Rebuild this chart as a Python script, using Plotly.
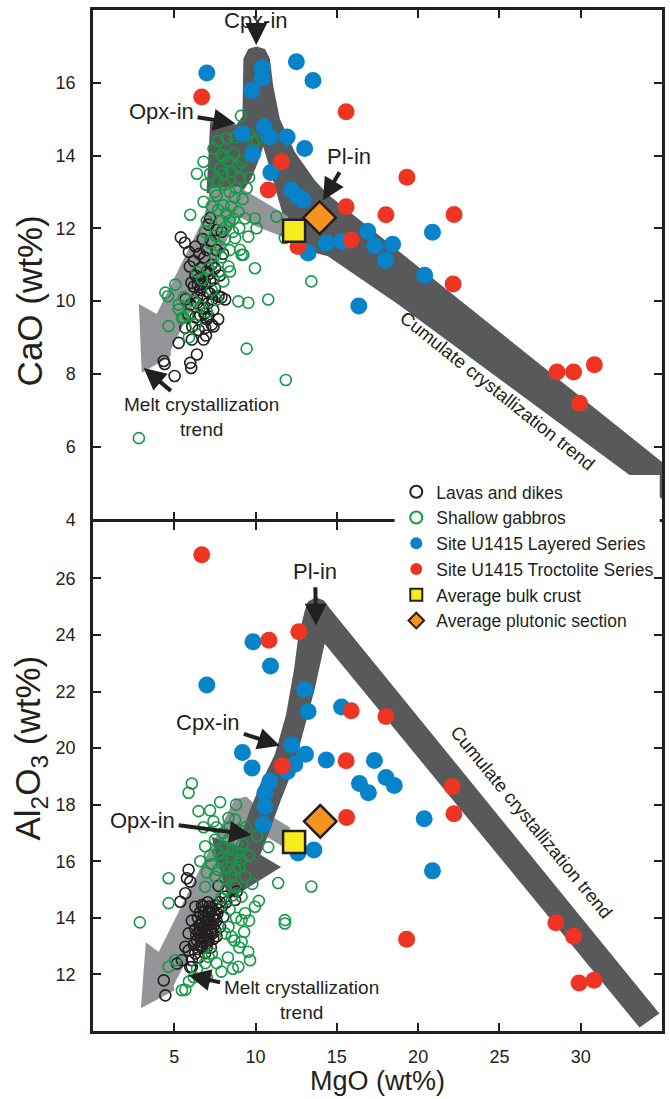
import plotly.graph_objects as go
from plotly.subplots import make_subplots

# ---------------- DATA (MgO wt%, oxide wt%) ----------------
# Upper panel: CaO vs MgO
cao_lavas = [(5.40, 11.75), (5.65, 11.60), (5.90, 11.35), (6.30, 11.50), (6.75, 11.70), (7.10, 12.10),
             (7.20, 12.28), (7.60, 11.95), (7.92, 11.90), (6.85, 11.20), (7.30, 11.00), (7.60, 11.40),
             (8.00, 11.30), (5.95, 10.95), (6.30, 10.70), (6.60, 10.90), (7.00, 10.80), (7.40, 10.60),
             (7.80, 10.70), (6.20, 10.40), (6.60, 10.30), (6.90, 10.50), (7.20, 10.20), (7.50, 10.35),
             (7.90, 10.10), (8.13, 10.04), (5.70, 10.05), (6.00, 9.90), (6.40, 9.95), (6.80, 9.80),
             (7.10, 9.95), (7.40, 9.76), (7.72, 10.13), (5.88, 9.63), (6.30, 9.55), (6.60, 9.60),
             (7.00, 9.50), (7.30, 9.35), (7.70, 9.50), (7.10, 9.58), (5.68, 9.26), (6.10, 9.30),
             (6.50, 9.20), (6.90, 9.26), (7.41, 9.30), (5.27, 8.85), (6.08, 8.94), (6.80, 8.94),
             (4.35, 8.35), (4.41, 8.27), (5.02, 7.94), (5.98, 8.30), (6.04, 8.16), (6.39, 8.53),
             (6.50, 10.60), (6.80, 10.10), (7.20, 10.55), (6.40, 10.10), (6.05, 10.50), (7.50, 10.90),
             (6.20, 11.10), (7.00, 11.40), (6.95, 9.05), (7.25, 11.65), (6.55, 11.30), (6.70, 10.45),
             (7.05, 10.25), (7.35, 10.05), (6.85, 9.65), (7.15, 10.75), (6.45, 10.45)]
cao_gabbros = [(9.10, 15.09), (8.22, 14.47), (7.41, 14.19), (6.80, 13.83), (6.39, 13.50), (7.92, 14.01),
               (8.64, 14.05), (9.55, 14.60), (9.86, 14.37), (10.06, 14.42), (9.14, 13.83), (7.82, 13.65),
               (8.53, 13.56), (9.04, 13.37), (9.45, 13.10), (6.80, 12.73), (5.98, 12.37), (7.61, 12.90),
               (8.02, 12.63), (8.64, 12.27), (8.94, 12.45), (9.35, 12.27), (9.96, 12.27), (10.06, 12.00),
               (9.55, 11.77), (8.74, 11.73), (9.04, 11.41), (9.25, 11.27), (7.82, 11.50), (8.33, 10.95),
               (7.72, 10.81), (8.02, 10.54), (9.96, 10.90), (10.78, 10.04), (8.94, 9.99), (9.55, 9.95),
               (5.06, 10.45), (4.45, 10.23), (4.65, 9.31), (5.27, 9.77), (5.57, 9.55), (11.28, 12.32),
               (13.43, 10.54), (2.82, 6.23), (11.86, 7.83), (9.45, 8.69), (4.61, 10.13), (5.27, 9.90),
               (5.47, 9.53), (7.61, 10.04), (8.43, 10.81), (9.14, 11.27), (8.10, 13.20), (8.40, 13.00),
               (8.70, 12.85), (8.20, 12.40), (7.90, 12.20), (8.50, 12.60), (8.80, 13.10), (7.70, 13.30),
               (8.30, 13.85), (8.90, 13.70), (7.50, 13.00), (8.00, 13.50), (8.60, 11.90), (8.10, 11.70),
               (7.50, 11.80), (7.90, 11.20), (8.40, 11.40), (8.20, 12.05), (7.30, 12.60), (7.00, 12.20),
               (7.20, 11.60), (7.50, 11.25), (6.90, 11.90), (7.70, 12.50), (9.20, 12.80), (9.60, 13.40),
               (8.75, 14.50), (7.70, 14.40), (7.20, 13.50), (6.95, 13.20), (8.00, 13.95), (9.00, 12.00),
               (8.40, 12.20), (7.10, 10.90), (6.70, 10.60), (6.40, 10.80), (6.20, 10.00), (6.60, 9.85),
               (7.30, 10.30), (7.00, 9.70), (6.30, 9.35), (5.90, 9.00), (5.80, 9.60), (5.60, 10.10),
               (11.80, 11.73)]
cao_layered = [(7.00, 16.27), (12.51, 16.58), (13.53, 16.06), (10.41, 16.40), (10.41, 16.13), (9.76, 15.79),
               (9.19, 14.60), (10.53, 14.79), (10.88, 14.51), (11.94, 14.51), (13.02, 14.19), (9.82, 14.05),
               (10.94, 13.53), (12.20, 13.05), (12.61, 12.87), (12.92, 12.78), (14.35, 11.59), (15.30, 11.64),
               (13.23, 11.32), (16.35, 9.86), (16.90, 11.92), (17.33, 11.51), (18.43, 11.56), (18.00, 11.12),
               (20.88, 11.89), (20.40, 10.71)]
cao_troctolite = [(6.69, 15.61), (15.57, 15.20), (11.59, 13.83), (10.78, 13.05), (15.57, 12.59), (12.61, 11.50),
                  (15.88, 11.68), (19.31, 13.40), (18.02, 12.37), (22.21, 12.38), (22.15, 10.47), (28.54, 8.05),
                  (29.56, 8.05), (30.84, 8.25), (29.93, 7.19)]
cao_bulk_crust = [(12.37, 11.93)]
cao_plutonic = [(13.94, 12.29)]

# Lower panel: Al2O3 vs MgO
al_lavas = [(5.88, 15.70), (5.78, 15.40), (5.98, 15.28), (5.68, 14.87), (5.37, 14.57), (7.72, 15.13),
            (8.84, 14.93), (8.74, 14.63), (4.35, 11.79), (4.45, 11.26), (5.16, 12.38), (5.47, 12.50),
            (5.98, 12.26), (5.88, 12.85), (5.68, 12.98), (5.88, 13.45), (6.08, 13.90), (6.29, 14.39),
            (8.13, 14.75), (7.92, 14.39), (8.02, 14.04), (7.82, 13.68), (7.51, 13.55), (7.10, 13.20),
            (6.70, 12.97), (6.29, 12.74), (6.08, 12.50), (6.08, 12.26), (6.50, 13.50), (6.70, 13.80),
            (6.90, 14.00), (7.10, 14.20), (7.30, 14.35), (7.50, 14.10), (7.70, 14.30), (6.60, 14.20),
            (6.80, 14.40), (7.00, 13.60), (7.20, 13.80), (7.40, 13.70), (7.60, 13.90), (6.40, 13.20),
            (6.60, 13.00), (6.80, 13.30), (7.00, 13.10), (7.20, 13.45), (7.40, 13.25), (6.90, 12.75),
            (6.50, 12.60), (6.30, 13.60), (6.45, 14.00), (7.80, 14.55), (7.05, 14.55), (6.75, 13.65),
            (7.15, 13.95), (6.95, 13.40), (7.35, 14.05), (6.60, 13.35), (6.20, 13.05), (7.60, 13.35),
            (8.20, 14.55), (6.90, 14.25), (7.25, 12.95), (6.55, 13.75), (6.85, 13.55), (7.10, 13.75),
            (7.30, 13.55), (6.65, 13.15), (7.05, 13.35), (7.45, 13.95), (6.80, 14.05), (7.15, 14.40),
            (6.35, 13.40), (7.55, 14.45), (6.95, 13.85), (7.25, 14.20), (6.70, 14.45), (7.00, 12.95),
            (6.45, 12.90), (7.65, 14.15), (6.60, 13.60), (7.35, 13.45), (6.90, 13.20)]
al_gabbros = [(6.08, 18.75), (7.82, 18.09), (6.49, 17.77), (5.88, 18.42), (4.65, 15.40), (4.65, 14.52),
              (2.88, 13.84), (11.39, 15.23), (13.43, 15.11), (11.80, 13.92), (11.80, 13.80), (9.14, 13.15),
              (9.55, 12.80), (9.66, 12.50), (8.94, 12.27), (10.78, 16.50), (5.47, 11.44), (5.68, 11.46),
              (7.41, 17.41), (8.33, 17.53), (8.74, 17.47), (6.90, 16.53), (7.51, 16.76), (8.33, 16.76),
              (8.84, 16.64), (7.72, 16.29), (8.53, 16.17), (9.14, 16.05), (7.92, 15.92), (8.74, 15.70),
              (9.35, 15.46), (7.51, 15.46), (6.90, 15.10), (8.74, 15.10), (9.14, 14.75), (9.96, 14.39),
              (9.35, 14.16), (9.14, 13.92), (8.33, 13.68), (8.53, 13.33), (7.31, 12.74), (7.10, 12.62),
              (8.13, 13.45), (4.65, 12.27), (5.06, 12.50), (8.00, 17.00), (8.40, 17.20), (9.00, 17.10),
              (7.60, 17.20), (8.10, 16.50), (8.60, 16.40), (9.20, 16.60), (7.90, 16.10), (8.30, 15.80),
              (8.90, 16.30), (7.70, 15.70), (8.10, 15.40), (8.50, 15.50), (9.00, 15.80), (7.30, 15.90),
              (8.20, 15.00), (8.60, 14.80), (7.90, 14.70), (7.20, 16.20), (9.40, 17.20), (8.80, 18.00),
              (6.60, 16.00), (7.00, 15.60), (8.40, 14.30), (8.80, 14.00), (9.60, 13.90), (8.70, 13.20),
              (9.00, 12.95), (7.60, 12.40), (8.30, 12.60), (7.90, 12.10), (6.90, 12.40), (6.40, 12.20),
              (5.90, 11.75), (6.20, 11.90), (7.00, 11.90), (8.60, 12.20), (9.30, 13.50), (10.20, 14.60),
              (10.10, 16.90), (9.80, 15.20), (6.80, 17.20), (7.20, 17.80), (9.60, 16.20)]
al_layered = [(9.84, 23.76), (10.92, 22.90), (7.00, 22.23), (13.02, 22.07), (13.23, 21.29), (15.29, 21.45),
              (12.22, 20.12), (13.07, 19.78), (9.19, 19.84), (9.78, 19.30), (14.35, 19.58), (12.41, 19.43),
              (11.95, 19.17), (17.31, 19.56), (16.39, 18.75), (16.94, 18.42), (18.02, 18.96), (18.53, 18.68),
              (20.37, 17.50), (20.88, 15.66), (10.88, 18.83), (10.57, 18.42), (10.57, 17.93), (10.47, 17.30),
              (13.59, 16.40), (12.61, 16.29)]
al_troctolite = [(6.69, 26.83), (12.66, 24.11), (10.82, 23.81), (15.88, 21.32), (18.02, 21.12), (15.57, 19.55),
                 (11.65, 19.37), (22.10, 18.64), (22.20, 17.68), (15.60, 17.55), (19.29, 13.24), (28.47, 13.83),
                 (29.56, 13.35), (29.90, 11.70), (30.82, 11.79)]
al_bulk_crust = [(12.37, 16.68)]
al_plutonic = [(13.98, 17.41)]

series_names = ["Lavas and dikes", "Shallow gabbros", "Site U1415 Layered Series",
                "Site U1415 Troctolite Series", "Average bulk crust", "Average plutonic section"]
x_ticks = [5, 10, 15, 20, 25, 30]
cao_ticks = [4, 6, 8, 10, 12, 14, 16]
al_ticks = [12, 14, 16, 18, 20, 22, 24, 26]

# ---------------- Trend band outlines (illustrative shapes, MgO / oxide) ----------------
cao_cumulate_band = [(7.21, 14.92), (8.82, 14.85), (9.19, 15.07), (9.25, 16.66), (9.55, 16.93), (10.06, 17.0),
                     (10.58, 16.93), (10.88, 16.66), (11.08, 15.93), (11.49, 15.01), (12.41, 14.1), (13.64, 13.32),
                     (14.45, 12.93), (35.88, 5.26), (35.88, 4.27), (18.74, 9.92), (14.45, 11.23), (12.61, 11.45),
                     (12.0, 11.86), (11.39, 12.82), (10.78, 13.78), (10.47, 14.25), (10.17, 13.84), (9.74, 13.37),
                     (9.25, 13.04), (6.98, 12.96)]
cao_melt_band = [(12.0, 12.33), (11.88, 11.73), (10.04, 12.05), (8.94, 12.33), (7.84, 11.32), (4.78, 8.66),
                 (4.78, 8.49), (3.0, 8.03), (2.82, 9.92), (3.92, 9.64), (6.8, 12.27), (7.23, 13.1), (8.94, 13.15)]
al_melt_band = [(12.12, 17.19), (12.0, 16.41), (10.47, 16.94), (9.55, 16.76), (4.96, 11.61), (5.02, 11.44),
                (2.94, 10.8), (3.25, 13.14), (4.04, 12.79), (8.33, 17.76), (8.7, 18.18), (9.43, 18.29),
                (10.29, 17.83)]
al_cumulate_band = [(13.03, 24.86), (13.23, 25.18), (13.72, 25.33), (14.21, 25.22), (14.57, 24.93),
                    (34.84, 10.62), (33.62, 10.12), (14.25, 23.69), (13.64, 22.09), (12.98, 20.67),
                    (12.31, 19.25), (11.57, 18.18), (10.66, 16.76), (10.29, 16.23), (11.57, 15.8),
                    (8.33, 14.63), (7.29, 16.87), (8.94, 16.55), (9.55, 17.65), (10.29, 18.72),
                    (11.19, 19.78), (11.88, 21.2), (12.37, 22.8), (12.61, 23.87)]

# ---------------- STYLE ----------------
FONT = "Liberation Sans, Arial, sans-serif"
INK = "#231f20"
DARK = "#58595b"
LIGHT = "#939598"
LINE_W = 2.5
styles = [
    dict(symbol="circle-open", size=11, color=INK, line=dict(width=1.6, color=INK)),
    dict(symbol="circle-open", size=11, color="#159947", line=dict(width=1.6, color="#159947")),
    dict(symbol="circle", size=17, color="#0783c9", line=dict(width=0)),
    dict(symbol="circle", size=17, color="#ee3524", line=dict(width=0)),
    dict(symbol="square", size=22, color="#f7ec1e", line=dict(width=2.5, color=INK)),
    dict(symbol="diamond", size=25, color="#f7941d", line=dict(width=2.5, color=INK)),
]

# a gap of one axis-line width lets the two panels share a single divider line
fig = make_subplots(rows=2, cols=1, shared_xaxes=True, vertical_spacing=LINE_W / 1021)

panels = [
    (1, [cao_lavas, cao_gabbros, cao_layered, cao_troctolite, cao_bulk_crust, cao_plutonic]),
    (2, [al_lavas, al_gabbros, al_layered, al_troctolite, al_bulk_crust, al_plutonic]),
]
for row, sets in panels:
    for i, pts in enumerate(sets):
        fig.add_trace(go.Scatter(
            x=[p[0] for p in pts], y=[p[1] for p in pts], mode="markers",
            name=series_names[i], legendgroup=series_names[i], showlegend=(row == 1),
            marker=styles[i], hoverinfo="x+y+name"), row=row, col=1)


def outline(pts):
    return "M " + " L ".join(f"{x},{y}" for x, y in pts) + " Z"


shapes = [
    dict(type="path", path=outline(cao_cumulate_band), xref="x", yref="y", fillcolor=DARK,
         line=dict(width=0), layer="below"),
    dict(type="path", path=outline(cao_melt_band), xref="x", yref="y", fillcolor=LIGHT,
         line=dict(width=0), layer="below"),
    dict(type="path", path=outline(al_melt_band), xref="x2", yref="y2", fillcolor=LIGHT,
         line=dict(width=0), layer="below"),
    dict(type="path", path=outline(al_cumulate_band), xref="x2", yref="y2", fillcolor=DARK,
         line=dict(width=0), layer="below"),
    # white box behind the legend (hides the band end and the panel divider there)
    dict(type="rect", xref="paper", yref="paper", x0=0.530, x1=0.996, y0=0.490, y1=0.5446,
         fillcolor="white", line=dict(width=0), layer="above"),
]

ann = []


def arrow(text, tip, tail, axis, size=22):
    xr, yr = ("x", "y") if axis == 1 else ("x2", "y2")
    ann.append(dict(text=text, x=tip[0], y=tip[1], ax=tail[0], ay=tail[1], xref=xr, yref=yr,
                    axref=xr, ayref=yr, showarrow=True, arrowhead=2, arrowsize=1.1, arrowwidth=4,
                    arrowcolor=INK, standoff=0, startstandoff=2,
                    font=dict(family=FONT, size=size, color=INK)))


arrow("Cpx-in", (10.04, 17.04), (10.04, 17.72), 1)
arrow("Opx-in", (8.76, 14.88), (4.22, 15.21), 1)
arrow("Pl-in", (14.15, 12.77), (15.74, 13.97), 1)
arrow("Melt crystallization<br>trend", (3.12, 8.16), (6.67, 6.82), 1, size=19)
arrow("Pl-in", (13.72, 24.33), (13.66, 26.25), 2)
arrow("Cpx-in", (11.49, 20.08), (7.10, 20.92), 2)
arrow("Opx-in", (9.74, 16.94), (3.06, 17.44), 2)
arrow("Melt crystallization<br>trend", (5.88, 11.97), (12.8, 11.08), 2, size=19)

ann.append(dict(text="Cumulate crystallization trend", x=24.86, y=7.53, xref="x", yref="y",
                showarrow=False, textangle=38.5, font=dict(family=FONT, size=18.5, color=INK)))
ann.append(dict(text="Cumulate crystallization trend", x=27.0, y=17.37, xref="x2", yref="y2",
                showarrow=False, textangle=50.6, font=dict(family=FONT, size=18.5, color=INK)))

# axis titles
ann.append(dict(text="CaO (wt%)", x=-0.110, y=0.715, xref="paper", yref="paper", showarrow=False,
                textangle=-90, xanchor="center", yanchor="middle",
                font=dict(family=FONT, size=35, color=INK)))
ann.append(dict(text="Al<sub>2</sub>O<sub>3</sub> (wt%)", x=-0.110, y=0.277, xref="paper", yref="paper",
                showarrow=False, textangle=-90, xanchor="center", yanchor="middle",
                font=dict(family=FONT, size=35, color=INK)))
ann.append(dict(text="MgO (wt%)", x=0.5, y=-0.049, xref="paper", yref="paper", showarrow=False,
                xanchor="center", yanchor="middle", font=dict(family=FONT, size=27, color=INK)))

axis_common = dict(showline=True, linecolor=INK, linewidth=LINE_W, mirror="ticks", ticks="inside",
                   ticklen=8, tickwidth=2, tickcolor=INK, showgrid=False, zeroline=False,
                   tickfont=dict(family=FONT, size=18, color=INK), ticklabelstandoff=11)

fig.update_xaxes(range=[0, 35], tickvals=x_ticks, **axis_common)
fig.update_xaxes(showticklabels=False, row=1, col=1)
fig.update_xaxes(ticklabelstandoff=8, row=2, col=1)
fig.update_yaxes(range=[4, 18], tickvals=cao_ticks, row=1, col=1, **axis_common)
fig.update_yaxes(range=[10, 28], tickvals=al_ticks, row=2, col=1, **axis_common)

fig.update_layout(
    width=670, height=1099,
    margin=dict(l=93, r=5, t=10, b=68),
    paper_bgcolor="white", plot_bgcolor="white",
    font=dict(family=FONT, color=INK),
    shapes=shapes, annotations=ann,
    legend=dict(x=0.533, y=0.5456, xanchor="left", yanchor="top", bgcolor="rgba(0,0,0,0)",
                font=dict(family=FONT, size=17.5, color=INK), itemsizing="constant",
                tracegroupgap=0, traceorder="grouped"),
)

fig.write_html("out.html", config={"displayModeBar": False},
               post_script="document.body.style.margin='0px';")
